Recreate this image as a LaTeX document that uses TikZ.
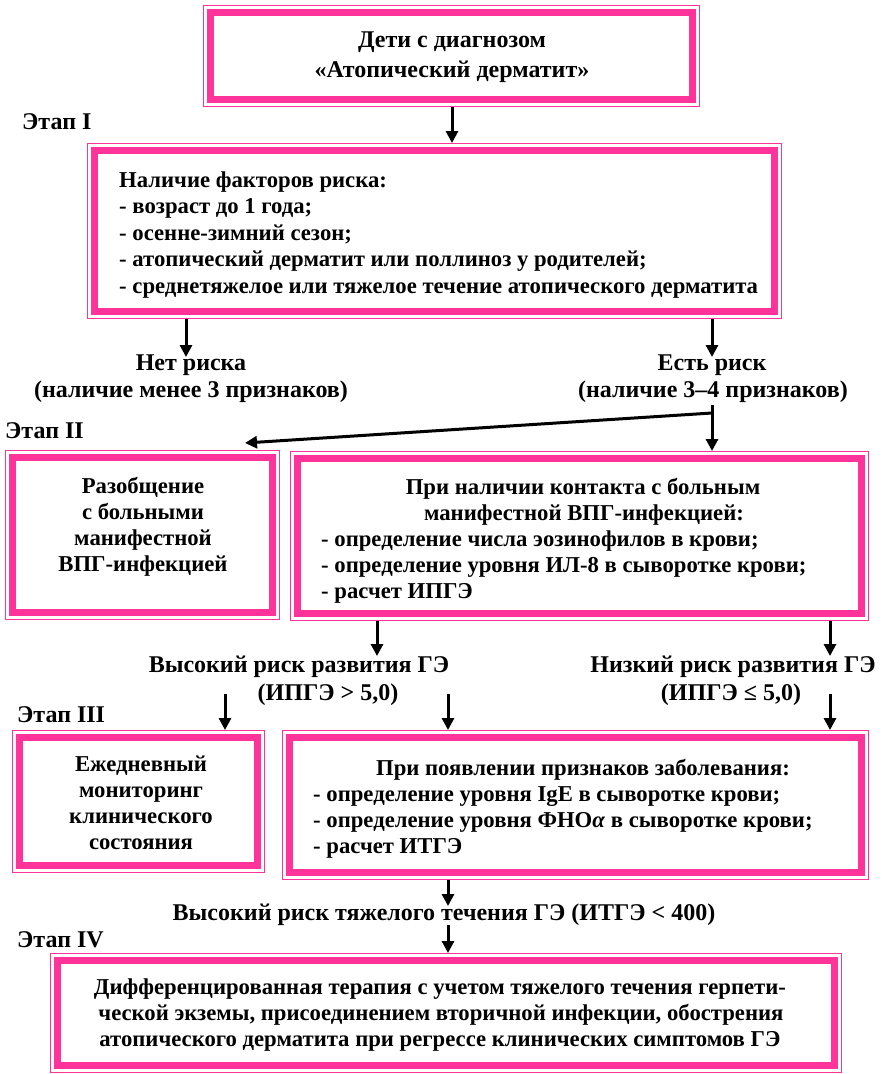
\documentclass[tikz,border=0pt]{standalone}
\usepackage{fontspec}
\setmainfont{Liberation Serif}
\usetikzlibrary{arrows.meta,calc}
\definecolor{pinkc}{RGB}{255,51,153}
\tikzset{
  x=1pt,y=-1pt,
  boxframe/.style={draw=pinkc,line width=7.5pt,inner sep=0pt,outer sep=0pt},
  thinframe/.style={draw=pinkc,line width=1.3pt},
  txt/.style={font=\bfseries\fontsize{22.7}{26}\selectfont,inner sep=0pt,anchor=base},
  ltxt/.style={txt,anchor=base west},
  big/.style={font=\bfseries\fontsize{24}{28}\selectfont},
  arr/.style={line width=3pt,-{Triangle[length=12pt,width=12pt]}},
}
\newcommand\pbox[5]{%
  \node[boxframe,minimum width={(#4-#2-15)*1pt},minimum height={(#5-#3-15)*1pt}] (#1) at ({(#2+#4)/2},{(#3+#5)/2}) {};
  \draw[thinframe] ($(#1.north west)+(-6.85,-6.85)$) rectangle ($(#1.south east)+(6.85,6.85)$);
}
\newcommand\ctl[4]{\node[txt] (#1) at (#2,#3) {#4};}
\newcommand\ltl[4]{\node[ltxt] (#1) at (#2,#3) {#4};}
\newcommand\cbl[4]{\node[txt,big] (#1) at (#2,#3) {#4};}
\newcommand\lbl[4]{\node[ltxt,big] (#1) at (#2,#3) {#4};}
\begin{document}
\begin{tikzpicture}
\useasboundingbox[fill=white] (0,0) rectangle (882,1074);
% boxes
\pbox{b1}{203}{5}{700}{107}
\pbox{b2}{87}{143}{782}{319}
\pbox{b3}{5}{450}{280}{620}
\pbox{b4}{290}{451}{869}{621}
\pbox{b5}{12}{730}{265}{873}
\pbox{b6}{282}{730}{869}{880}
\pbox{b7}{50}{953}{842}{1073}
% box texts
\cbl{t11}{452}{47}{Дети с диагнозом}
\cbl{t12}{452}{77}{«Атопический дерматит»}
\ltl{t21}{119}{187}{Наличие факторов риска:}
\ltl{t22}{119}{213.5}{- возраст до 1 года;}
\ltl{t23}{119}{240}{- осенне-зимний сезон;}
\ltl{t24}{119}{266.5}{- атопический дерматит или поллиноз у родителей;}
\ltl{t25}{119}{293}{- среднетяжелое или тяжелое течение атопического дерматита}
\ctl{t31}{143}{493}{Разобщение}
\ctl{t32}{143}{519}{с больными}
\ctl{t33}{143}{545}{манифестной}
\ctl{t34}{143}{571}{ВПГ-инфекцией}
\ctl{t41}{583}{494}{При наличии контакта с больным}
\ctl{t42}{584}{520}{манифестной ВПГ-инфекцией:}
\ltl{t43}{321}{546}{- определение числа эозинофилов в крови;}
\ltl{t44}{321}{572}{- определение уровня ИЛ-8 в сыворотке крови;}
\ltl{t45}{321}{598}{- расчет ИПГЭ}
\ctl{t51}{141}{771.5}{Ежедневный}
\ctl{t52}{141}{797.5}{мониторинг}
\ctl{t53}{141}{823.5}{клинического}
\ctl{t54}{141}{849.5}{состояния}
\ctl{t61}{583}{775.5}{При появлении признаков заболевания:}
\ltl{t62}{313}{801.5}{- определение уровня IgE в сыворотке крови;}
\ltl{t63}{313}{827.5}{- определение уровня ФНО\textit{α} в сыворотке крови;}
\ltl{t64}{313}{853.5}{- расчет ИТГЭ}
\ctl{t71}{440}{994}{Дифференцированная терапия с учетом тяжелого течения герпети-}
\ctl{t72}{441}{1020}{ческой экземы, присоединением вторичной инфекции, обострения}
\ctl{t73}{440}{1046}{атопического дерматита при регрессе клинических симптомов ГЭ}
% free labels
\lbl{e1}{22}{129}{Этап I}
\lbl{e2}{5}{438}{Этап II}
\lbl{e3}{17}{722}{Этап III}
\lbl{e4}{17}{947}{Этап IV}
\cbl{n1}{191}{370}{Нет риска}
\cbl{n2}{191}{397}{(наличие менее 3 признаков)}
\cbl{y1}{712}{370}{Есть риск}
\cbl{y2}{713}{397}{(наличие 3–4 признаков)}
\cbl{h1}{299}{672}{Высокий риск развития ГЭ}
\cbl{h2}{328}{700}{(ИПГЭ > 5,0)}
\cbl{l1}{733}{672}{Низкий риск развития ГЭ}
\cbl{l2}{731}{700}{(ИПГЭ ≤ 5,0)}
\cbl{s1}{444}{920}{Высокий риск тяжелого течения ГЭ (ИТГЭ < 400)}
% arrow coordinates
\coordinate (xg) at (452,0);
\coordinate (xa) at (186,0);
\coordinate (xb) at (712,0);
\coordinate (xc) at (377,0);
\coordinate (xd) at (830,0);
\coordinate (xe) at (225,0);
\coordinate (xf) at (448,0);
\coordinate (tipA) at (186,357);
\coordinate (tipB) at (712,357);
\coordinate (fork) at (712,405);
\coordinate (fork2) at (712,413);
\coordinate (tipC) at (245,443);
\coordinate (tipD) at (377,656);
\coordinate (tipE) at (830,656);
\coordinate (srcF) at (225,694);
\coordinate (srcG) at (448,694);
\coordinate (srcH) at (830,694);
\coordinate (tipI) at (448,906);
\coordinate (srcJ) at (448,925);
% arrows
\draw[arr] (b1.south -| xg) ++(0,7.5) -- ([yshift=7.5pt]b2.north -| xg);
\draw[arr] (b2.south -| xa) ++(0,7.5) -- (tipA);
\draw[arr] (b2.south -| xb) ++(0,7.5) -- (tipB);
\draw[arr] (fork) -- ([yshift=7.5pt]b4.north -| xb);
\draw[arr] (fork2) -- (tipC);
\draw[arr] (b4.south -| xc) ++(0,7.5) -- (tipD);
\draw[arr] (b4.south -| xd) ++(0,7.5) -- (tipE);
\draw[arr] (srcF) -- ([yshift=7.5pt]b5.north -| xe);
\draw[arr] (srcG) -- ([yshift=7.5pt]b6.north -| xf);
\draw[arr] (srcH) -- ([yshift=7.5pt]b6.north -| xd);
\draw[arr] (b6.south -| xf) ++(0,7.5) -- (tipI);
\draw[arr] (srcJ) -- ([yshift=7.5pt]b7.north -| xf);
\end{tikzpicture}
\end{document}
